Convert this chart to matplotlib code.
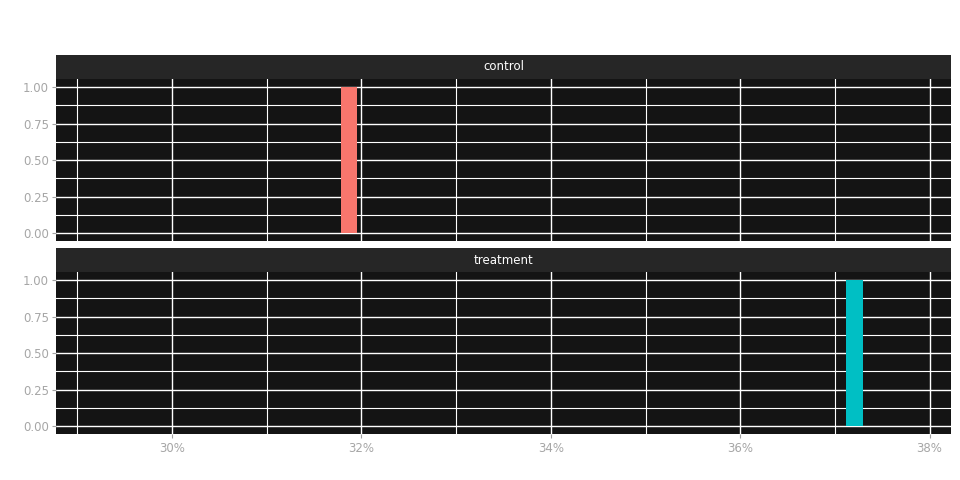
import matplotlib
matplotlib.use("Agg")
import matplotlib.pyplot as plt
from matplotlib.ticker import PercentFormatter, MultipleLocator

# data
groups = ["control", "treatment"]
rates = [0.3187, 0.3721]
counts = [1.0, 1.0]
colors = ["#F8766D", "#00BFC4"]
bar_width = 0.00175

panel_bg = "#141414"
strip_bg = "#262626"
text_col = "#a6a6a6"

fig = plt.figure(figsize=(9.6, 4.8), dpi=100)
fig.patch.set_facecolor("white")

left, right = 56 / 960, 951 / 960
panels = [(79, 241), (272, 434)]
strip_h = 24

for i, (g, r, c, col) in enumerate(zip(groups, rates, counts, colors)):
    top, bot = panels[i]
    ax = fig.add_axes([left, 1 - bot / 480, right - left, (bot - top) / 480])
    ax.set_facecolor(panel_bg)
    ax.bar([r], [c], width=bar_width, color=col, zorder=3)
    ax.set_xlim(0.28775, 0.38226)
    ax.set_ylim(-0.054, 1.056)
    ax.xaxis.set_major_locator(MultipleLocator(0.02))
    ax.xaxis.set_minor_locator(MultipleLocator(0.01))
    ax.yaxis.set_major_locator(MultipleLocator(0.25))
    ax.yaxis.set_minor_locator(MultipleLocator(0.125))
    ax.grid(True, which="major", color="white", linewidth=1.0, zorder=1)
    ax.grid(True, which="minor", color="white", linewidth=0.8, zorder=1)
    ax.set_axisbelow(True)
    for s in ax.spines.values():
        s.set_visible(False)
    ax.yaxis.set_major_formatter(plt.FuncFormatter(lambda v, p: f"{v:.2f}"))
    ax.tick_params(axis="y", colors="#a0a0a0", labelcolor=text_col, labelsize=8.5,
                   length=3, width=0.8, which="major", pad=2)
    ax.tick_params(which="minor", length=0)
    if i == 1:
        ax.xaxis.set_major_formatter(PercentFormatter(xmax=1, decimals=0))
        ax.tick_params(axis="x", colors="#a0a0a0", labelcolor=text_col, labelsize=8.5,
                       length=3, width=0.8, which="major", pad=3)
    else:
        ax.tick_params(axis="x", length=0, labelbottom=False, which="both")

    sax = fig.add_axes([left, 1 - top / 480, right - left, strip_h / 480])
    sax.set_facecolor(strip_bg)
    sax.set_xticks([])
    sax.set_yticks([])
    for s in sax.spines.values():
        s.set_visible(False)
    sax.text(0.5, 0.5, g, color="white", fontsize=8.5, ha="center", va="center",
             transform=sax.transAxes)

fig.savefig("out.png", dpi=100)
